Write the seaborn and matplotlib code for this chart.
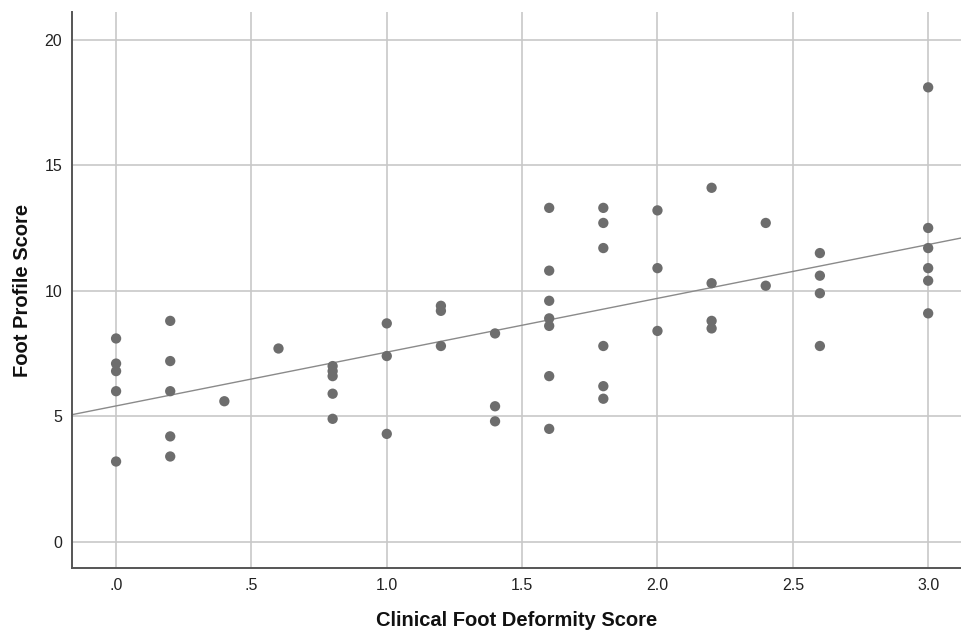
import numpy as np
import pandas as pd
import matplotlib
matplotlib.use("Agg")
import matplotlib.pyplot as plt
import seaborn as sns

# clinical foot deformity score (x) and foot profile score (y)
deformity = [0.0, 0.0, 0.0, 0.0, 0.0,
             0.2, 0.2, 0.2, 0.2, 0.2,
             0.4, 0.6,
             0.8, 0.8, 0.8, 0.8, 0.8,
             1.0, 1.0, 1.0,
             1.2, 1.2, 1.2,
             1.4, 1.4, 1.4,
             1.6, 1.6, 1.6, 1.6, 1.6, 1.6, 1.6,
             1.8, 1.8, 1.8, 1.8, 1.8, 1.8,
             2.0, 2.0, 2.0,
             2.2, 2.2, 2.2, 2.2,
             2.4, 2.4,
             2.6, 2.6, 2.6, 2.6,
             3.0, 3.0, 3.0, 3.0, 3.0, 3.0]
profile = [8.1, 7.1, 6.8, 6.0, 3.2,
           8.8, 7.2, 6.0, 4.2, 3.4,
           5.6, 7.7,
           7.0, 6.8, 6.6, 5.9, 4.9,
           8.7, 7.4, 4.3,
           9.4, 9.2, 7.8,
           8.3, 5.4, 4.8,
           13.3, 10.8, 9.6, 8.9, 8.6, 6.6, 4.5,
           13.3, 12.7, 11.7, 7.8, 6.2, 5.7,
           13.2, 10.9, 8.4,
           14.1, 10.3, 8.8, 8.5,
           12.7, 10.2,
           11.5, 10.6, 9.9, 7.8,
           18.1, 12.5, 11.7, 10.9, 10.4, 9.1]

x_ticks = [0.0, 0.5, 1.0, 1.5, 2.0, 2.5, 3.0]
x_tick_labels = [".0", ".5", "1.0", "1.5", "2.0", "2.5", "3.0"]
y_ticks = [0, 5, 10, 15, 20]

df = pd.DataFrame({"deformity": deformity, "profile": profile})

sns.set_style("white")
plt.rcParams["font.family"] = ["Liberation Sans", "DejaVu Sans"]

fig = plt.figure(figsize=(9.62, 6.32), dpi=100)
ax = fig.add_axes([0.0748, 0.1013, 0.9252, 0.8797])

ax.set_xlim(-0.163, 3.125)
ax.set_ylim(-1.04, 21.1)

# grid lines behind everything
ax.set_axisbelow(True)
ax.grid(True, color="#c8c8c8", linewidth=1.2)

sns.scatterplot(data=df, x="deformity", y="profile", ax=ax, color="#6d6d6d",
                s=55, edgecolor="none", zorder=3)
# fit line over the full x range (SPSS style)
sns.regplot(data=df, x="deformity", y="profile", ax=ax, scatter=False,
            ci=None, truncate=False,
            line_kws={"color": "#8a8a8a", "linewidth": 1.0, "zorder": 2})

ax.set_xticks(x_ticks)
ax.set_xticklabels(x_tick_labels)
ax.set_yticks(y_ticks)
ax.tick_params(length=0, labelsize=11.5, colors="#222222", pad=7)

ax.set_xlabel("Clinical Foot Deformity Score", fontsize=14.5, fontweight="bold",
              color="#111111", labelpad=13)
ax.set_ylabel("Foot Profile Score", fontsize=14.5, fontweight="bold",
              color="#111111", labelpad=9)

for side in ["top", "right"]:
    ax.spines[side].set_visible(False)
for side in ["left", "bottom"]:
    ax.spines[side].set_color("#555555")
    ax.spines[side].set_linewidth(1.4)

fig.savefig("out.png", dpi=100)
